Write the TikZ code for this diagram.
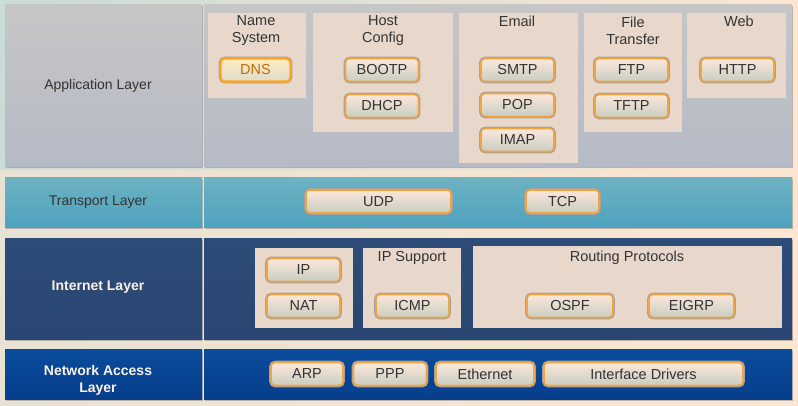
\documentclass[tikz,border=0pt]{standalone}
\usepackage{fontspec}
\setmainfont{Liberation Sans}
\definecolor{bgl}{HTML}{C9DCD8}
\definecolor{bgr}{HTML}{FCE6D2}
\definecolor{appT}{HTML}{C6C6C6}
\definecolor{appB}{HTML}{B6BAC6}
\definecolor{trT}{HTML}{6CB2C2}
\definecolor{trB}{HTML}{4EA2BE}
\definecolor{inT}{HTML}{2E4C78}
\definecolor{inB}{HTML}{2A4672}
\definecolor{naT}{HTML}{0A4C9C}
\definecolor{naB}{HTML}{063E8C}
\definecolor{subbox}{HTML}{E8D8CC}
\definecolor{btnT}{HTML}{FCE8DA}
\definecolor{btnB}{HTML}{C8CCC2}
\definecolor{btnO}{HTML}{F2A440}
\definecolor{txt}{HTML}{333333}
\definecolor{wtxt}{HTML}{FAF2E4}
\definecolor{shad}{HTML}{8E8A86}
\tikzset{
  cell/.style={draw=none, preaction={fill=shad, opacity=0.55, transform canvas={shift={(1pt,-1.5pt)}}}},
  subb/.style={fill=subbox, draw=none},
  hdr/.style={font=\fontsize{14.5}{17}\selectfont, text=txt, align=center},
  lbl/.style={font=\fontsize{14}{17}\selectfont, text=txt, align=center},
  wlbl/.style={font=\fontsize{14}{17}\selectfont\bfseries, text=wtxt, align=center},
  btn/.style={rounded corners=4pt, draw=btnO, line width=1.6pt, top color=btnT, bottom color=btnB,
    preaction={draw=shad!80, line width=3.6pt, rounded corners=5pt},
    minimum height=23pt, inner sep=0pt, font=\fontsize{14.5}{17}\selectfont, text=txt},
  hot/.style={btn, draw={rgb,255:red,255;green,164;blue,32}, line width=2.4pt, top color={rgb,255:red,255;green,236;blue,190}, bottom color={rgb,255:red,220;green,220;blue,205}, text={rgb,255:red,190;green,110;blue,10}}
}
\begin{document}
\begin{tikzpicture}[x=1pt,y=-1pt]
\useasboundingbox (0,0) rectangle (798,406);
\fill[left color=bgl, right color=bgr] (0,0) rectangle (798,406);
\fill[bgr, opacity=0.6] (0,170) rectangle (798,406);
% Application layer
\path[cell, top color=appT, bottom color=appB] (5,5) rectangle (202,167);
\path[cell, top color=appT, bottom color=appB] (204,5) rectangle (792,167);
\node[lbl] (applbl) at (98,86) {Application Layer};
% Transport
\path[cell, top color=trT, bottom color=trB] (5,178) rectangle (202,228);
\path[cell, top color=trT, bottom color=trB] (204,178) rectangle (792,228);
\node[lbl] (trlbl) at (98,202) {Transport Layer};
% Internet
\path[cell, top color=inT, bottom color=inB] (5,239) rectangle (202,339);
\path[cell, top color=inT, bottom color=inB] (204,239) rectangle (792,339);
\node[wlbl] (inlbl) at (98,287.5) {Internet Layer};
% Network access
\path[cell, top color=naT, bottom color=naB] (5,349) rectangle (202,399);
\path[cell, top color=naT, bottom color=naB] (204,349) rectangle (792,399);
\node[wlbl] (nalbl) at (98,380.5) {Network Access\\Layer};
% application sub boxes
\fill[subb] (208,13) rectangle (306,98);
\fill[subb] (313,13) rectangle (453,132);
\fill[subb] (459,13) rectangle (578,163);
\fill[subb] (584,13) rectangle (682,132);
\fill[subb] (687,13) rectangle (786,98);
\node[hdr] (hname) at (256,30.5) {Name\\System};
\node[hdr] (hhost) at (383,30.5) {Host\\Config};
\node[hdr] (hmail) at (517,21.5) {Email};
\node[hdr] (hfile) at (633,30.5) {File\\Transfer};
\node[hdr] (hweb) at (739,21.5) {Web};
\node[hot, minimum width=70pt] (dns) at (255.5,70) {DNS};
\node[btn, minimum width=73pt] (bootp) at (382,70) {BOOTP};
\node[btn, minimum width=73pt] (dhcp) at (382,106) {DHCP};
\node[btn, minimum width=73pt] (smtp) at (517.5,70) {SMTP};
\node[btn, minimum width=73pt] (pop) at (517.5,105) {POP};
\node[btn, minimum width=73pt] (imap) at (517.5,140) {IMAP};
\node[btn, minimum width=73pt] (ftp) at (631.5,70) {FTP};
\node[btn, minimum width=73pt] (tftp) at (631.5,106) {TFTP};
\node[btn, minimum width=73pt] (http) at (737.5,70) {HTTP};
% transport
\node[btn, minimum width=145pt] (udp) at (378.5,201.5) {UDP};
\node[btn, minimum width=73pt] (tcp) at (562.5,201.5) {TCP};
% internet sub boxes
\fill[subb] (255,248) rectangle (353,328);
\fill[subb] (363,248) rectangle (461,328);
\fill[subb] (473,246) rectangle (782,328);
\node[hdr] (hips) at (412,257.5) {IP Support};
\node[hdr] (hrout) at (627,257.5) {Routing Protocols};
\node[btn, minimum width=73pt] (ip) at (303.5,270) {IP};
\node[btn, minimum width=73pt] (nat) at (303.5,306) {NAT};
\node[btn, minimum width=73pt] (icmp) at (412.5,306) {ICMP};
\node[btn, minimum width=86pt] (ospf) at (570,306) {OSPF};
\node[btn, minimum width=85pt] (eigrp) at (691.5,306) {EIGRP};
% network access
\node[btn, minimum width=72pt] (arp) at (307,374) {ARP};
\node[btn, minimum width=73pt] (ppp) at (390,374) {PPP};
\node[btn, minimum width=98pt] (eth) at (485,374) {Ethernet};
\node[btn, minimum width=199pt] (drv) at (643.5,374) {Interface Drivers};
\end{tikzpicture}
\end{document}
